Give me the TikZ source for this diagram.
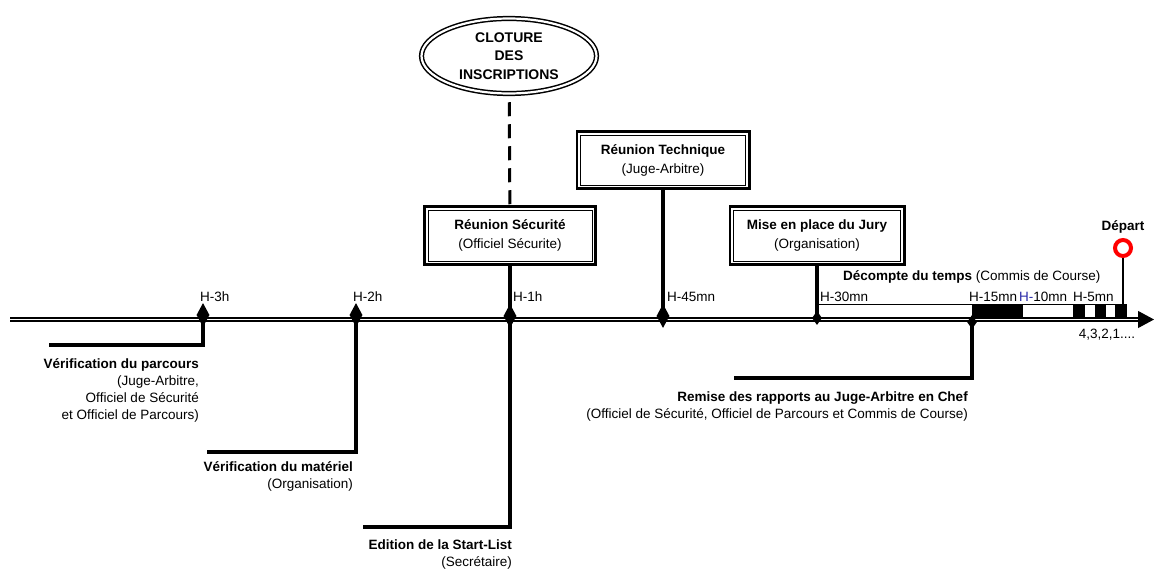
\documentclass[tikz,border=0pt]{standalone}
\usepackage{fontspec}
\setmainfont{Liberation Sans}
\usetikzlibrary{shapes.geometric,arrows.meta}
\definecolor{rougedepart}{HTML}{FF0000}
\definecolor{bleuh}{HTML}{2828A8}
\tikzset{
	% ------- every something
	every node/.style={
		font=\fontsize{13.5}{17}\selectfont,
		inner sep=0pt,
	},
	% ------- custom
	axe/.style={
		line width=1.3pt,
		double=white,
		double distance=1.9pt,
	},
	fleche/.style={
		line width=1pt,
		-{Triangle[length=16pt,width=17pt]},
	},
	tige/.style={
		line width=3.5pt,
	},
	pointilles/.style={
		line width=3pt,
		dash pattern=on 14pt off 8pt,
		shorten <=8pt,
	},
	jalon/.style={
		diamond, fill=black,
		minimum width=13pt, minimum height=24pt,
	},
	petit jalon/.style={
		diamond, fill=black,
		minimum width=10pt, minimum height=14pt,
	},
	heure/.style={
		anchor=west,
	},
	boite/.style={
		rectangle, draw, fill=white,
		line width=1pt,
		align=center,
		outer sep=5pt,
		preaction={draw, line width=10pt},
		preaction={draw=white, line width=4.5pt},
	},
	ovale/.style={
		ellipse, draw, fill=white,
		line width=1.5pt,
		double=white, double distance=2.2pt,
		align=center,
		font=\fontsize{14}{18.5}\selectfont\bfseries,
	},
	depart/.style={
		circle, draw=rougedepart, fill=white,
		line width=4pt,
		minimum size=16pt,
	},
	evenement/.style={
		align=right,
		anchor=north east,
	},
}

\begin{document}
\begin{tikzpicture}[x=1pt, y=-1pt]

% parameters %{{{1

	\def\yaxe{319.5}
	\def\yh{297}

% frame %{{{1

	\useasboundingbox (0,0) rectangle (1154,570);

% time axis %{{{1

	\coordinate (debut) at (10,\yaxe);
	\coordinate (basefleche) at (1138,\yaxe);
	\coordinate (fin) at (1154,\yaxe);

	\draw[axe] (debut) -- (basefleche);
	\draw[fleche] (basefleche) -- (fin);

% countdown bar %{{{1

	\draw[line width=0.6pt, fill=white] (817,304) rectangle (1126,317.3);
	\foreach \a/\b in {972/1023, 1073/1085, 1095/1106, 1115/1126}
		\fill (\a,304) rectangle (\b,317.3);

% markers %{{{1

	\node[jalon] (j3h) at (203,315) {};
	\node[jalon] (j2h) at (356,315) {};
	\node[jalon] (j1h) at (510,316) {};
	\node[jalon] (j45) at (663,316) {};
	\node[petit jalon] (j30) at (817,318) {};
	\node[petit jalon] (j15) at (972,322) {};

% time labels %{{{1

	\node[heure] (h3)  at (200,\yh) {H-3h};
	\node[heure] (h2)  at (353,\yh) {H-2h};
	\node[heure] (h1)  at (513,\yh) {H-1h};
	\node[heure] (h45) at (667,\yh) {H-45mn};
	\node[heure] (h30) at (820,\yh) {H-30mn};
	\node[heure] (h15) at (969,\yh) {H-15mn};
	\node[heure] (h10) at (1019,\yh) {\textcolor{bleuh}{H-}10mn};
	\node[heure] (h5)  at (1073,\yh) {H-5mn};

	\node[heure] (decompte) at (843,277) {\textbf{Décompte du temps} (Commis de Course)};
	\node (compte) at (1107,335) {4,3,2,1....};

% boxes %{{{1

	\node[ovale, minimum width=175pt, minimum height=75pt] (cloture) at (509,56)
		{CLOTURE\\DES\\INSCRIPTIONS};

	\node[boite, minimum width=164pt, minimum height=51pt] (secu) at (510,235.5)
		{\textbf{Réunion Sécurité}\\[2pt](Officiel Sécurite)};

	\node[boite, minimum width=165pt, minimum height=50pt] (tech) at (663,160)
		{\textbf{Réunion Technique}\\[2pt](Juge-Arbitre)};

	\node[boite, minimum width=167pt, minimum height=51pt] (jury) at (817,235.5)
		{\textbf{Mise en place du Jury}\\[2pt](Organisation)};

% start %{{{1

	\node[depart] (depart) at (1123,248) {};
	\node[font=\fontsize{13.5}{17}\selectfont\bfseries] (departlabel) at (1123,227) {Départ};
	\coordinate (pied) at (1123,317);

% events %{{{1

	\node[evenement] (verifparcours) at (199,358)
		{\textbf{Vérification du parcours}\\(Juge-Arbitre,\\Officiel de Sécurité\\et Officiel de Parcours)};

	\node[evenement] (verifmateriel) at (353,461)
		{\textbf{Vérification du matériel}\\(Organisation)};

	\node[evenement] (startlist) at (512,540)
		{\textbf{Edition de la Start-List}\\(Secrétaire)};

	\node[evenement] (rapports) at (968,392)
		{\textbf{Remise des rapports au Juge-Arbitre en Chef}\\(Officiel de Sécurité, Officiel de Parcours et Commis de Course)};

% connectors %{{{1

	\coordinate (b3h) at (49,345);
	\coordinate (b2h) at (207,452);
	\coordinate (b1h) at (363,527);
	\coordinate (b15) at (734,378);

	\draw[pointilles] (cloture) -- (secu);

	\draw[tige] (j3h.center) |- (b3h);
	\draw[tige] (j2h.center) |- (b2h);
	\draw[tige] (secu) -- (j1h.center) |- (b1h);
	\draw[tige] (tech) -- (j45.center);
	\draw[tige] (jury) -- (j30.center);
	\draw[tige] (j15.center) |- (b15);
	\draw[line width=2.5pt] (depart) -- (pied);

% closing %{{{1

\end{tikzpicture}
\end{document}
